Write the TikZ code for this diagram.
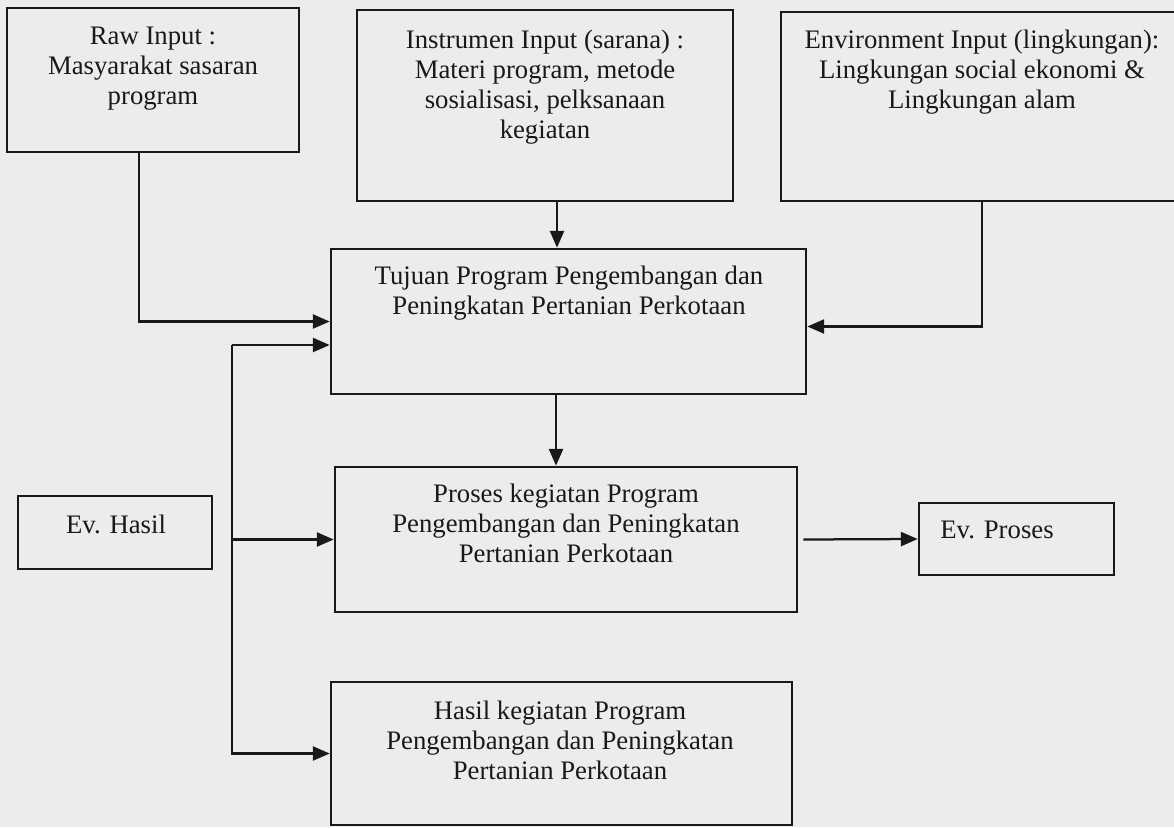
\documentclass[tikz,border=0pt]{standalone}
\usepackage{fontspec}
\setmainfont{Liberation Serif}
\usetikzlibrary{arrows.meta,calc}
\definecolor{paper}{RGB}{236,236,236}
\definecolor{ink}{RGB}{25,25,25}

\begin{document}
\begin{tikzpicture}[
            x=0.025cm, y=-0.025cm,
            box/.style={rectangle, draw=ink, line width=1.8pt, inner sep=0pt},
            txt/.style={align=center, inner sep=0pt, text=ink, font=\fontsize{19}{21.3}\selectfont},
            arrow/.style={-{Triangle[length=12pt,width=10pt]}, draw=ink, line width=1.6pt}
        ]
            % Paper
            \fill[paper] (0,0) rectangle (1174,827);
            \useasboundingbox (0,0) rectangle (1174,827);
            
            % Inputs
            \node[box, minimum width=7.3cm, minimum height=3.6cm] (raw) at (153,80) {};
            \node[box, minimum width=9.4cm, minimum height=4.775cm] (instr) at (545,105.5) {};
            \node[box, minimum width=10.05cm, minimum height=4.725cm] (env) at (982,106.5) {};
            \node[txt] (rawtext) at (153,69) {Raw Input :\\Masyarakat sasaran\\program};
            \node[txt] (instrtext) at (545,87) {Instrumen Input (sarana) :\\Materi program, metode\\sosialisasi, pelksanaan\\kegiatan};
            \node[txt] (envtext) at (982,72) {Environment Input (lingkungan):\\Lingkungan social ekonomi \&\\Lingkungan alam};
            
            % Program
            \node[box, minimum width=11.875cm, minimum height=3.625cm] (tujuan) at (568.5,321.5) {};
            \node[box, minimum width=11.55cm, minimum height=3.625cm] (proses) at (566,539.5) {};
            \node[box, minimum width=11.525cm, minimum height=3.575cm] (hasil) at (561.5,753.5) {};
            \node[txt] (tujuantext) at (569,293) {Tujuan Program Pengembangan dan\\Peningkatan Pertanian Perkotaan};
            \node[txt] (prosestext) at (566,523) {Proses kegiatan Program\\Pengembangan dan Peningkatan\\Pertanian Perkotaan};
            \node[txt] (hasiltext) at (560,740) {Hasil kegiatan Program\\Pengembangan dan Peningkatan\\Pertanian Perkotaan};
            
            % Evaluations
            \node[box, minimum width=4.85cm, minimum height=1.825cm] (evhasil) at (115,532.5) {};
            \node[box, minimum width=4.875cm, minimum height=1.8cm] (evproses) at (1016.5,539) {};
            \node[txt] (evhasiltext) at (116,524) {Ev. Hasil};
            \node[txt] (evprosestext) at (997,530) {Ev. Proses};
            
            % Arrows
            \draw[arrow] ($(raw.south)+(-14,0)$) |- (tujuan.west);
            \draw[arrow] ($(instr.south)+(12,0)$) -- ($(tujuan.north)+(-11.5,0)$);
            \draw[arrow] (env.south) |- ($(tujuan.east)+(0,5)$);
            \draw[arrow] ($(tujuan.south)+(-12.5,0)$) -- ($(proses.north)+(-10,0)$);
            \draw[arrow] ($(proses.east)+(5,0)$) -- (evproses.west);
            
            % Feedback line
            \coordinate (fb) at (232,345);
            \draw[arrow] (fb) -- (fb -| tujuan.west);
            \draw[arrow] (fb |- proses.west) -- (proses.west);
            \draw[arrow] (fb) |- (hasil.west);
        \end{tikzpicture}
\end{document}
